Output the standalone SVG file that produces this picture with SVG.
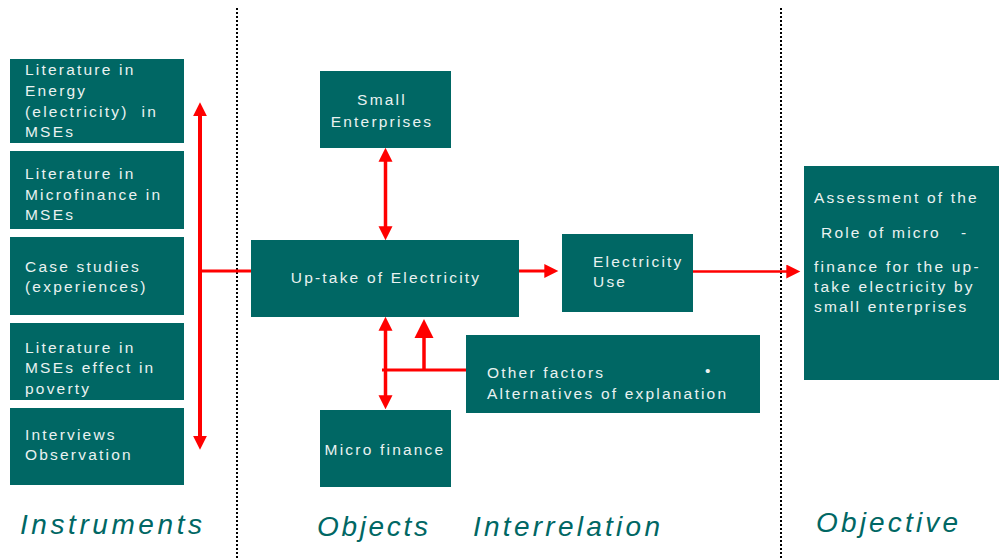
<svg xmlns="http://www.w3.org/2000/svg" width="999" height="558" viewBox="0 0 999 558">
  <style>
    .box { fill: #006764; }
    .lbl { font-family: "Liberation Sans", Arial, sans-serif; font-size: 15.5px; letter-spacing: 2.2px; fill: #eaf2f1; }
    .mid { text-anchor: middle; }
    .cap { font-family: "Liberation Sans", Arial, sans-serif; font-size: 28px; font-style: italic; fill: #006764; }
    .sep { stroke: #000; stroke-width: 2; stroke-dasharray: 2 2; fill: none; }
    .wire { stroke: #ff0000; fill: none; stroke-linecap: butt; }
  </style>
  <defs>
    <marker id="headS" viewBox="0 0 10 10" refX="0.5" refY="5" markerUnits="userSpaceOnUse" markerWidth="14" markerHeight="16" orient="auto-start-reverse">
      <path d="M0,0 L10,5 L0,10 z" fill="#ff0000"/>
    </marker>
    <marker id="headM" viewBox="0 0 10 10" refX="0.5" refY="5" markerUnits="userSpaceOnUse" markerWidth="17" markerHeight="14" orient="auto-start-reverse">
      <path d="M0,0 L10,5 L0,10 z" fill="#ff0000"/>
    </marker>
    <marker id="headL" viewBox="0 0 10 10" refX="0.5" refY="5" markerUnits="userSpaceOnUse" markerWidth="19" markerHeight="22" orient="auto-start-reverse">
      <path d="M0,0 L10,5 L0,10 z" fill="#ff0000"/>
    </marker>
  </defs>

  <rect width="999" height="558" fill="#ffffff"/>

  <!-- column separators -->
  <g id="separators">
    <line class="sep" x1="237" y1="8" x2="237" y2="558"/>
    <line class="sep" x1="781" y1="8" x2="781" y2="558"/>
  </g>

  <!-- instruments column -->
  <g id="lit-energy">
    <rect class="box" x="10" y="59" width="174" height="84"/>
    <text class="lbl" x="25" y="75">Literature in</text>
    <text class="lbl" x="25" y="96">Energy</text>
    <text class="lbl" x="25" y="117">(electricity)&#160; in</text>
    <text class="lbl" x="25" y="137">MSEs</text>
  </g>
  <g id="lit-microfinance">
    <rect class="box" x="10" y="151" width="174" height="78"/>
    <text class="lbl" x="25" y="179">Literature in</text>
    <text class="lbl" x="25" y="200">Microfinance in</text>
    <text class="lbl" x="25" y="220">MSEs</text>
  </g>
  <g id="case-studies">
    <rect class="box" x="10" y="237" width="174" height="78"/>
    <text class="lbl" x="25" y="272">Case studies</text>
    <text class="lbl" x="25" y="292">(experiences)</text>
  </g>
  <g id="lit-poverty">
    <rect class="box" x="10" y="323" width="174" height="77"/>
    <text class="lbl" x="25" y="353">Literature in</text>
    <text class="lbl" x="25" y="373">MSEs effect in</text>
    <text class="lbl" x="25" y="394">poverty</text>
  </g>
  <g id="interviews">
    <rect class="box" x="10" y="408" width="174" height="77"/>
    <text class="lbl" x="25" y="440">Interviews</text>
    <text class="lbl" x="25" y="460">Observation</text>
  </g>

  <!-- objects / interrelation -->
  <g id="small-enterprises">
    <rect class="box" x="320" y="71" width="131" height="77"/>
    <text class="lbl mid" x="382" y="105">Small</text>
    <text class="lbl mid" x="382" y="127">Enterprises</text>
  </g>
  <g id="uptake">
    <rect class="box" x="251" y="240" width="268" height="77"/>
    <text class="lbl mid" x="386" y="283">Up-take of Electricity</text>
  </g>
  <g id="micro-finance">
    <rect class="box" x="320" y="410" width="131" height="77"/>
    <text class="lbl mid" x="385" y="455">Micro finance</text>
  </g>
  <g id="electricity-use">
    <rect class="box" x="562" y="234" width="131" height="78"/>
    <text class="lbl" x="593" y="267">Electricity</text>
    <text class="lbl" x="593" y="287">Use</text>
  </g>
  <g id="other-factors">
    <rect class="box" x="466" y="335" width="294" height="78"/>
    <text class="lbl" x="487" y="378">Other factors</text>
    <text class="lbl" x="705" y="376">•</text>
    <text class="lbl" x="487" y="399">Alternatives of explanation</text>
  </g>

  <!-- objective -->
  <g id="assessment">
    <rect class="box" x="804" y="166" width="195" height="214"/>
    <text class="lbl" x="814" y="203">Assessment of the</text>
    <text class="lbl" x="821" y="238">Role of micro</text>
    <text class="lbl" x="961" y="238">-</text>
    <text class="lbl" x="814" y="272">finance for the up-</text>
    <text class="lbl" x="814" y="292">take electricity by</text>
    <text class="lbl" x="814" y="312">small enterprises</text>
  </g>

  <!-- connectors -->
  <g id="connectors">
    <line class="wire" stroke-width="4" x1="200" y1="115.5" x2="200" y2="436.5" marker-start="url(#headS)" marker-end="url(#headS)"/>
    <line class="wire" stroke-width="3" x1="200" y1="271" x2="251" y2="271"/>
    <line class="wire" stroke-width="3.5" x1="385.5" y1="161" x2="385.5" y2="227" marker-start="url(#headS)" marker-end="url(#headS)"/>
    <line class="wire" stroke-width="3.5" x1="385.5" y1="330" x2="385.5" y2="396" marker-start="url(#headS)" marker-end="url(#headS)"/>
    <line class="wire" stroke-width="3" x1="382" y1="370" x2="466" y2="370"/>
    <line class="wire" stroke-width="3.5" x1="424" y1="371" x2="424" y2="337" marker-end="url(#headL)"/>
    <line class="wire" stroke-width="3" x1="519" y1="271" x2="545" y2="271" marker-end="url(#headM)"/>
    <line class="wire" stroke-width="2.5" x1="693" y1="271.5" x2="787" y2="271.5" marker-end="url(#headM)"/>
  </g>

  <!-- column captions -->
  <g id="captions">
    <text class="cap" x="20" y="534" textLength="182" lengthAdjust="spacing">Instruments</text>
    <text class="cap" x="317" y="536" textLength="111" lengthAdjust="spacing">Objects</text>
    <text class="cap" x="473" y="536" textLength="187" lengthAdjust="spacing">Interrelation</text>
    <text class="cap" x="816" y="532" textLength="142" lengthAdjust="spacing">Objective</text>
  </g>
</svg>
